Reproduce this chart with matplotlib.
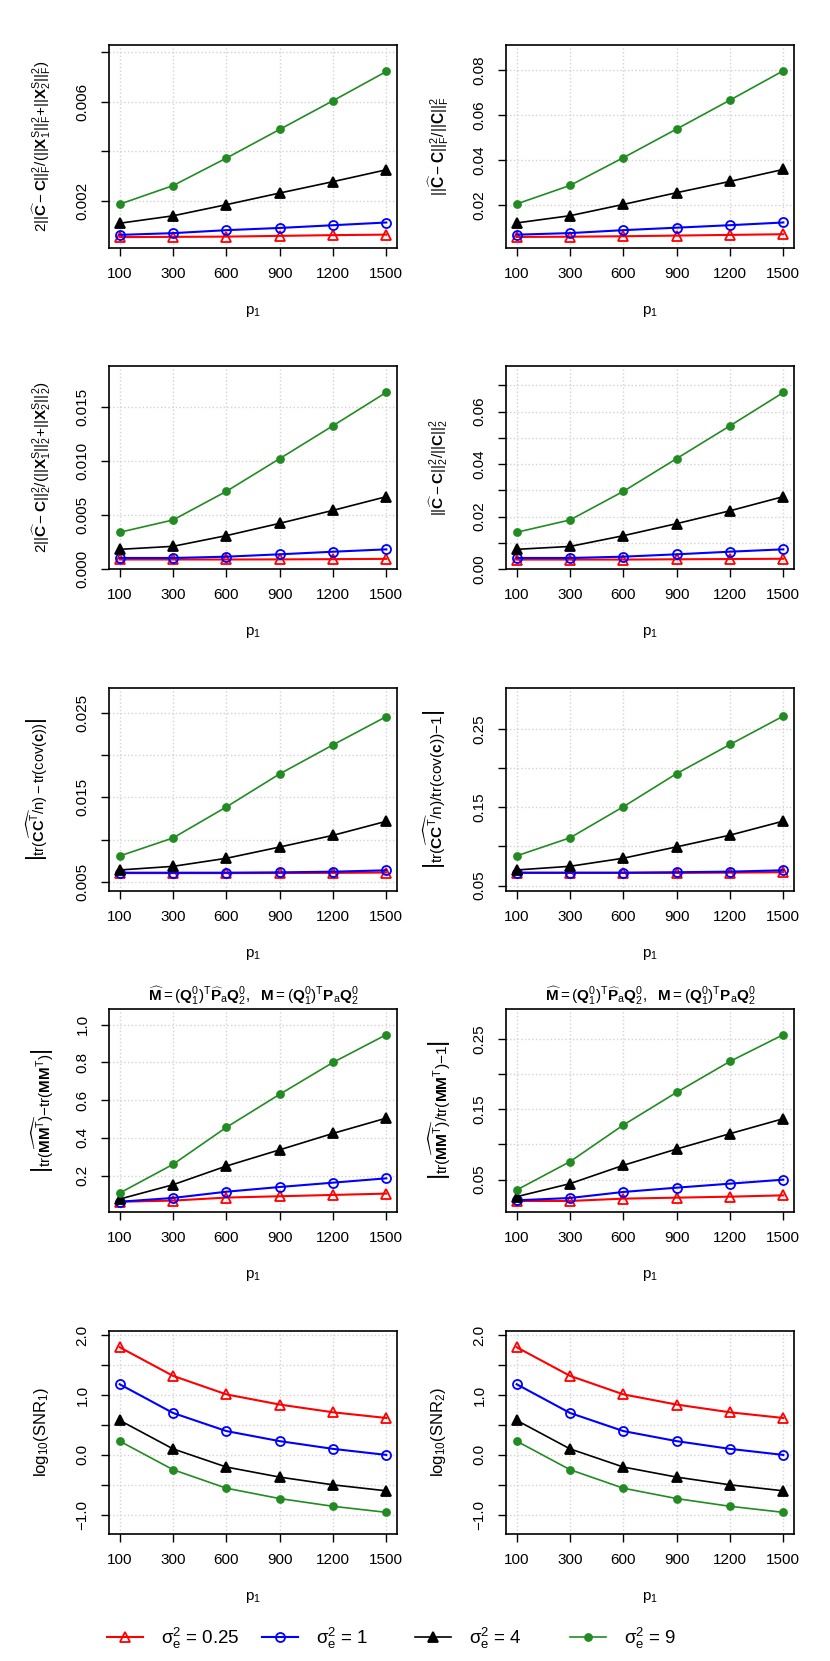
import matplotlib
matplotlib.use("Agg")
import matplotlib.pyplot as plt
from matplotlib.lines import Line2D

plt.rcParams['font.family'] = ['Liberation Sans', 'DejaVu Sans']
plt.rcParams['mathtext.fontset'] = 'custom'
plt.rcParams['mathtext.rm'] = 'Liberation Sans'
plt.rcParams['mathtext.it'] = 'Liberation Sans:italic'
plt.rcParams['mathtext.bf'] = 'Liberation Sans:bold'
plt.rcParams['mathtext.sf'] = 'Liberation Sans'

# x categories
p1_labels = ['100', '300', '600', '900', '1200', '1500']
xpos = [1, 2, 3, 4, 5, 6]

# series order: sigma_e^2 = 0.25, 1, 4, 9
series_names = [r'$\mathrm{\sigma_e^2}$ = 0.25', r'$\mathrm{\sigma_e^2}$ = 1',
                r'$\mathrm{\sigma_e^2}$ = 4', r'$\mathrm{\sigma_e^2}$ = 9']

# panel 1: scaled frobenius error
fro_scaled = [
    [0.00054, 0.00055, 0.00056, 0.00059, 0.00062, 0.00064],
    [0.00063, 0.00070, 0.00082, 0.00091, 0.00102, 0.00113],
    [0.00110, 0.00140, 0.00185, 0.00232, 0.00278, 0.00326],
    [0.00187, 0.00262, 0.00373, 0.00489, 0.00605, 0.00723],
]
# panel 2: relative frobenius error
fro_rel = [
    [0.0060, 0.0061, 0.0063, 0.0066, 0.0069, 0.0072],
    [0.0070, 0.0077, 0.0090, 0.0101, 0.0112, 0.0124],
    [0.0122, 0.0154, 0.0204, 0.0256, 0.0306, 0.0359],
    [0.0206, 0.0288, 0.0411, 0.0538, 0.0666, 0.0796],
]
# panel 3: scaled spectral error
spec_scaled = [
    [0.00088, 0.00088, 0.00088, 0.00089, 0.00091, 0.00094],
    [0.00102, 0.00102, 0.00114, 0.00136, 0.00160, 0.00182],
    [0.00182, 0.00210, 0.00309, 0.00423, 0.00543, 0.00670],
    [0.00340, 0.00454, 0.00719, 0.01022, 0.01327, 0.01636],
]
# panel 4: relative spectral error
spec_rel = [
    [0.0036, 0.0036, 0.0036, 0.0037, 0.0038, 0.0039],
    [0.0042, 0.0042, 0.0047, 0.0056, 0.0066, 0.0075],
    [0.0075, 0.0086, 0.0127, 0.0173, 0.0222, 0.0276],
    [0.0140, 0.0187, 0.0296, 0.0421, 0.0546, 0.0673],
]
# panel 5: trace difference of C
tr_c_abs = [
    [0.00605, 0.00605, 0.00605, 0.00606, 0.00608, 0.00612],
    [0.00610, 0.00610, 0.00610, 0.00614, 0.00622, 0.00638],
    [0.00642, 0.00685, 0.00780, 0.00913, 0.01051, 0.01217],
    [0.00807, 0.01020, 0.01386, 0.01776, 0.02119, 0.02453],
]
# panel 6: trace ratio of C
tr_c_rel = [
    [0.0662, 0.0662, 0.0662, 0.0663, 0.0666, 0.0671],
    [0.0666, 0.0666, 0.0666, 0.0671, 0.0679, 0.0696],
    [0.0700, 0.0747, 0.0850, 0.0995, 0.1144, 0.1323],
    [0.0880, 0.1110, 0.1506, 0.1929, 0.2300, 0.2662],
]
# panel 7: trace difference of M
tr_m_abs = [
    [0.062, 0.068, 0.084, 0.091, 0.098, 0.105],
    [0.062, 0.082, 0.115, 0.140, 0.163, 0.186],
    [0.076, 0.152, 0.251, 0.337, 0.424, 0.505],
    [0.108, 0.260, 0.456, 0.631, 0.800, 0.947],
]
# panel 8: trace ratio of M
tr_m_rel = [
    [0.0197, 0.0197, 0.0230, 0.0244, 0.0258, 0.0277],
    [0.0206, 0.0239, 0.0325, 0.0386, 0.0443, 0.0500],
    [0.0258, 0.0443, 0.0704, 0.0936, 0.1154, 0.1367],
    [0.0353, 0.0756, 0.1277, 0.1742, 0.2182, 0.2562],
]
# panels 9, 10: log10 SNR
snr1 = [
    [1.796, 1.319, 1.010, 0.840, 0.711, 0.616],
    [1.179, 0.700, 0.398, 0.230, 0.101, 0.000],
    [0.577, 0.101, -0.202, -0.370, -0.499, -0.599],
    [0.230, -0.246, -0.555, -0.728, -0.857, -0.958],
]
snr2 = [
    [1.796, 1.319, 1.010, 0.840, 0.711, 0.616],
    [1.179, 0.700, 0.398, 0.230, 0.101, 0.000],
    [0.577, 0.101, -0.202, -0.370, -0.499, -0.599],
    [0.230, -0.246, -0.555, -0.728, -0.857, -0.958],
]

colors = ['#FF0000', '#0000FF', '#000000', '#228B22']
markers = ['^', 'o', '^', 'o']
mfcs = ['none', 'none', '#000000', '#228B22']
msizes = [7.5, 6.5, 7.5, 5]
lws = [1.5, 1.5, 1.2, 1.2]

lab_title = (r'$\widehat{\mathbf{M}} = (\mathbf{Q}_1^0)^{\mathrm{T}}\widehat{\mathbf{P}}_{\mathrm{a}}\mathbf{Q}_2^0,\ \ '
             r'\mathbf{M} = (\mathbf{Q}_1^0)^{\mathrm{T}}\mathbf{P}_{\mathrm{a}}\mathbf{Q}_2^0$')

F = r'\mathrm{F}'
S = r'\mathrm{S}'
T = r'\mathrm{T}'
panels = [
    (fro_scaled, r'$2||\widehat{\mathbf{C}} - \mathbf{C}||_' + F + r'^2/(||\mathbf{X}_1^' + S + r'||_' + F
     + r'^2$+$||\mathbf{X}_2^' + S + r'||_' + F + r'^2)$',
     (0.0001, 0.0083), [0.002, 0.004, 0.006, 0.008], ['0.002', '', '0.006', ''], None),
    (fro_rel, r'$||\widehat{\mathbf{C}} - \mathbf{C}||_' + F + r'^2/||\mathbf{C}||_' + F + r'^2$',
     (0.0011, 0.091), [0.02, 0.04, 0.06, 0.08], ['0.02', '0.04', '0.06', '0.08'], None),
    (spec_scaled, r'$2||\widehat{\mathbf{C}} - \mathbf{C}||_2^2/(||\mathbf{X}_1^' + S + r'||_2^2$+$||\mathbf{X}_2^'
     + S + r'||_2^2)$',
     (0.0, 0.0188), [0.0, 0.005, 0.010, 0.015], ['0.000', '0.005', '0.010', '0.015'], None),
    (spec_rel, r'$||\widehat{\mathbf{C}} - \mathbf{C}||_2^2/||\mathbf{C}||_2^2$',
     (0.0, 0.0774), [0.0, 0.01, 0.02, 0.03, 0.04, 0.05, 0.06, 0.07],
     ['0.00', '', '0.02', '', '0.04', '', '0.06', ''], None),
    (tr_c_abs, r'$\left|\mathrm{tr}(\widehat{\mathbf{CC}^' + T + r'}\mathrm{/n)-tr}(\mathrm{cov}(\mathbf{c}))\right|$',
     (0.00394, 0.0279), [0.005, 0.010, 0.015, 0.020, 0.025], ['0.005', '', '0.015', '', '0.025'], None),
    (tr_c_rel, r'$\left|\mathrm{tr}(\widehat{\mathbf{CC}^' + T + r'}\mathrm{/n)}/\mathrm{tr}(\mathrm{cov}(\mathbf{c}))\mathrm{-1}\right|$',
     (0.0432, 0.302), [0.05, 0.10, 0.15, 0.20, 0.25], ['0.05', '', '0.15', '', '0.25'], None),
    (tr_m_abs, r'$\left|\mathrm{tr}(\widehat{\mathbf{MM}^' + T + r'})\mathrm{-tr}(\mathbf{MM}^' + T + r')\right|$',
     (0.0076, 1.083), [0.2, 0.4, 0.6, 0.8, 1.0], ['0.2', '0.4', '0.6', '0.8', '1.0'], lab_title),
    (tr_m_rel, r'$\left|\mathrm{tr}(\widehat{\mathbf{MM}^' + T + r'})/\mathrm{tr}(\mathbf{MM}^' + T + r')\mathrm{-1}\right|$',
     (0.004, 0.2927), [0.05, 0.10, 0.15, 0.20, 0.25], ['0.05', '', '0.15', '', '0.25'], lab_title),
    (snr1, r'$\mathrm{log}_{10}(\mathrm{SNR}_1)$',
     (-1.319, 2.067), [-1.0, -0.5, 0.0, 0.5, 1.0, 1.5, 2.0], ['\u22121.0', '', '0.0', '', '1.0', '', '2.0'], None),
    (snr2, r'$\mathrm{log}_{10}(\mathrm{SNR}_2)$',
     (-1.319, 2.067), [-1.0, -0.5, 0.0, 0.5, 1.0, 1.5, 2.0], ['\u22121.0', '', '0.0', '', '1.0', '', '2.0'], None),
]

# pixel length of each y label in the reference, used to size the math labels
ylab_len = [172, 100, 172, 97, 143, 160, 124, 140, 90, 90]

W, H = 830, 1661
fig = plt.figure(figsize=(W / 100, H / 100), dpi=100)

col_left = [109, 506]
row_top = [45, 366, 688, 1009, 1331]
pw, ph = 288, 203

axes = []
for k, (data, ylab, ylim, yticks, yticklabels, title) in enumerate(panels):
    r, c = k // 2, k % 2
    ax = fig.add_axes([col_left[c] / W, 1 - (row_top[r] + ph) / H, pw / W, ph / H])
    for i in range(4):
        ax.plot(xpos, data[i], color=colors[i], marker=markers[i], mfc=mfcs[i],
                mec=colors[i], ms=msizes[i], lw=lws[i], mew=1.3, zorder=3)
    ax.set_xlim(0.8, 6.2)
    ax.set_ylim(*ylim)
    ax.set_xticks(xpos)
    ax.set_xticklabels(p1_labels)
    ax.set_yticks(yticks)
    ax.set_yticklabels(yticklabels)
    ax.grid(True, color='#D3D3D3', linestyle=':', linewidth=1.0)
    ax.tick_params(direction='out', length=6, width=1.0, labelsize=11, pad=8)
    ax.tick_params(axis='y', labelrotation=90)
    for lbl in ax.get_yticklabels():
        lbl.set_va('center')
    for s in ax.spines.values():
        s.set_linewidth(1.2)
    ax.set_xlabel(r'p$_1$', fontsize=11, va='center')
    ax.xaxis.set_label_coords(0.5, -0.315)
    ax.set_ylabel(ylab, fontsize=11, va='center')
    ylx = -0.233 if r != 2 else -0.25
    ax.yaxis.set_label_coords(ylx, 0.5)
    if title:
        ax.set_title(title, fontsize=11, fontweight='bold', pad=6)
    axes.append(ax)

# scale math y labels to the reference lengths
for _ in range(2):
    fig.canvas.draw()
    for ax, target in zip(axes, ylab_len):
        lab = ax.yaxis.label
        h = lab.get_window_extent().height
        lab.set_fontsize(lab.get_fontsize() * target / h)

# legend along the bottom
leg_x = [107, 262, 415, 570]
for i in range(4):
    h = Line2D([], [], color=colors[i], marker=markers[i], mfc=mfcs[i], mec=colors[i],
               ms=msizes[i], lw=lws[i], mew=1.3)
    fig.legend([h], [series_names[i]], loc='center left', bbox_to_anchor=(leg_x[i] / W, 1 - 1638 / H),
               frameon=False, fontsize=13.5, handlelength=1.9, handletextpad=1.0,
               borderpad=0, borderaxespad=0)

fig.savefig('out.png', dpi=100)
